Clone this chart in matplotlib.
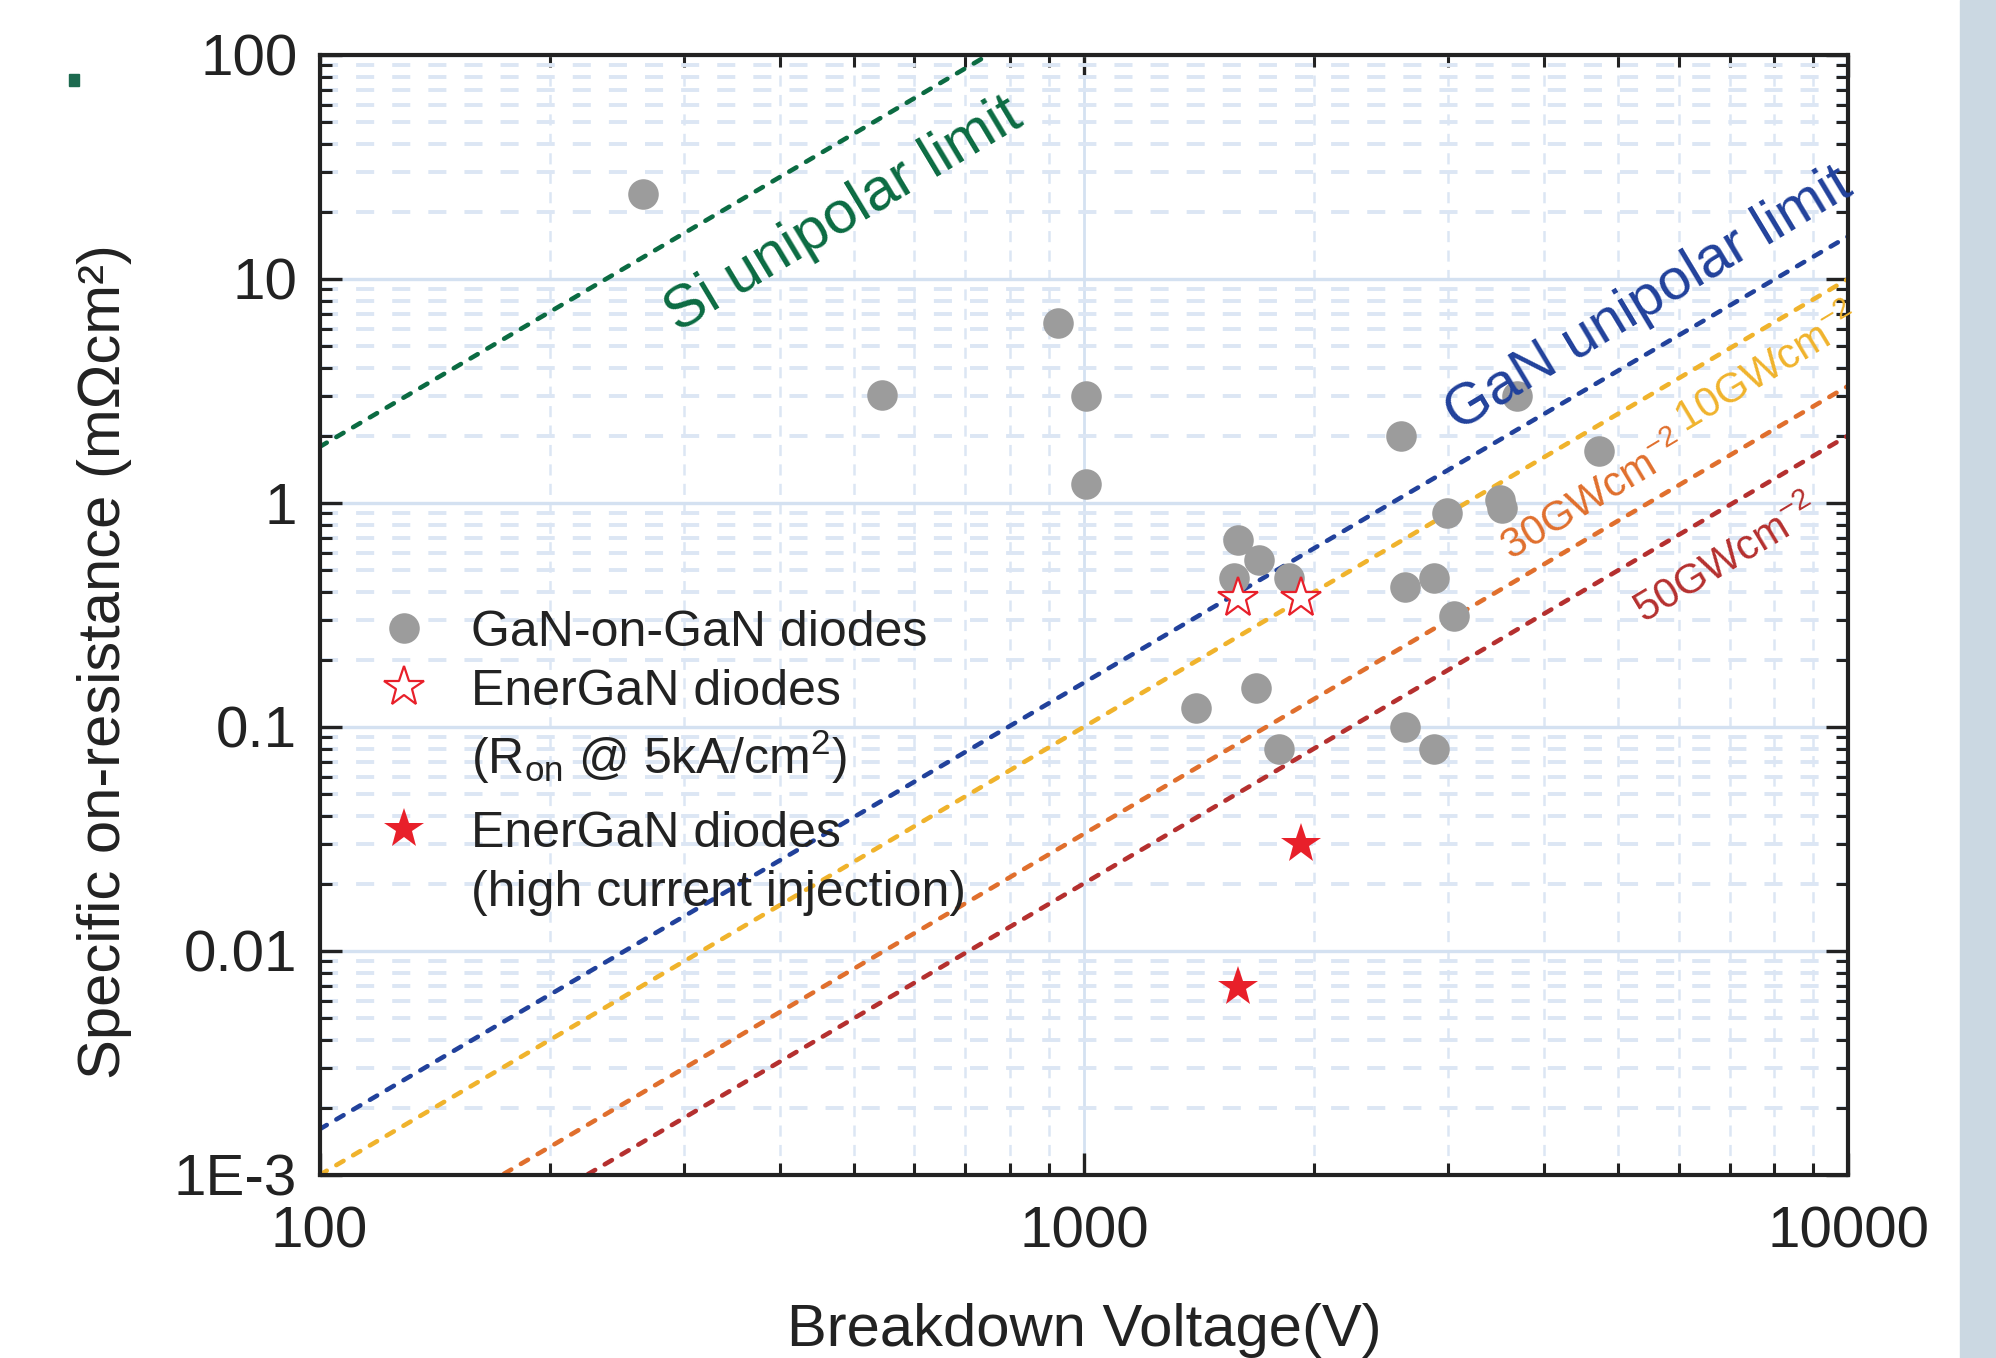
import matplotlib
matplotlib.use("Agg")
import matplotlib.pyplot as plt
from matplotlib.lines import Line2D
from matplotlib.patches import Rectangle
from matplotlib.ticker import FixedLocator, FixedFormatter, LogLocator, NullFormatter

plt.rcParams['font.family'] = ['Liberation Sans', 'DejaVu Sans']
plt.rcParams['mathtext.fontset'] = 'custom'
plt.rcParams['mathtext.rm'] = 'Liberation Sans'
plt.rcParams['mathtext.it'] = 'Liberation Sans:italic'
plt.rcParams['mathtext.bf'] = 'Liberation Sans:bold'
plt.rcParams['lines.scale_dashes'] = False

# ---------------- data ----------------
gan_v = [265, 545, 925, 1006, 1006, 1593, 1570, 1695, 1858, 1404, 1681, 1802,
         2603, 2632, 2875, 2632, 2875, 2987, 3046, 3500, 3520, 3690, 4720]
gan_ron = [24.0, 3.04, 6.33, 3.0, 1.22, 0.684, 0.462, 0.555, 0.462, 0.122, 0.150, 0.080,
           2.0, 0.422, 0.462, 0.100, 0.080, 0.90, 0.312, 1.03, 0.95, 3.0, 1.71]

energan_open_v = [1593, 1923]
energan_open_ron = [0.375, 0.375]

energan_hi_v = [1923, 1593]
energan_hi_ron = [0.030, 0.0069]

# limit lines (endpoints, straight on log-log)
si_v, si_ron = [100, 1000], [1.78, 178.0]
ganlim_v, ganlim_ron = [100, 10000], [1.6e-3, 15.5]
gw10_v, gw10_ron = [100, 10000], [1.0e-3, 10.0]
gw30_v, gw30_ron = [100, 10000], [3.33e-4, 3.33]
gw50_v, gw50_ron = [100, 10000], [2.0e-4, 2.0]

yticks = [1e-3, 1e-2, 1e-1, 1, 10, 100]
ytick_labels = ['1E-3', '0.01', '0.1', '1', '10', '100']
xticks = [100, 1000, 10000]
xtick_labels = ['100', '1000', '10000']

# ---------------- figure ----------------
fig = plt.figure(figsize=(19.96, 13.58), dpi=100)
ax = fig.add_axes([0.1601, 0.1348, 0.7658, 0.8247])
ax.set_xscale('log')
ax.set_yscale('log')
ax.set_xlim(100, 10000)
ax.set_ylim(1e-3, 100)

# grid
ax.xaxis.grid(True, which='major', color='#d4e1f1', linewidth=2.0, linestyle='-', zorder=0)
ax.yaxis.grid(True, which='major', color='#d4e1f1', linewidth=2.4, linestyle='-', zorder=0)
ax.yaxis.grid(True, which='minor', color='#dce6f4', linewidth=2.8, linestyle=(0, (13, 13)), zorder=0)
ax.xaxis.grid(True, which='minor', color='#dce6f4', linewidth=1.8, linestyle=(0, (8, 6)), zorder=0)
ax.set_axisbelow(True)

# colours
c_si = '#0b6b42'
c_gan = '#21419b'
c_10 = '#f0b32c'
c_30 = '#e06f2d'
c_50 = '#b5302f'

dash = (0, (6.0, 8.0))
lw = 3.3
line_kw = dict(lw=lw, linestyle=dash, dash_capstyle='round', zorder=2)
ax.plot(si_v, si_ron, color=c_si, **line_kw)
ax.plot(ganlim_v, ganlim_ron, color=c_gan, **line_kw)
ax.plot(gw10_v, gw10_ron, color=c_10, **line_kw)
ax.plot(gw30_v, gw30_ron, color=c_30, **line_kw)
ax.plot(gw50_v, gw50_ron, color=c_50, **line_kw)

# markers
gray = '#9c9c9c'
star_red = '#e8202a'
ms_c = 22
ms_s = 30
ax.plot(gan_v, gan_ron, linestyle='none', marker='o', markersize=ms_c,
        color=gray, markeredgewidth=0, zorder=3)
ax.plot(energan_open_v, energan_open_ron, linestyle='none', marker='*', markersize=ms_s,
        markerfacecolor='white', markeredgecolor=star_red, markeredgewidth=1.6, zorder=4)
ax.plot(energan_hi_v, energan_hi_ron, linestyle='none', marker='*', markersize=ms_s,
        color=star_red, markeredgewidth=0, zorder=4)

# line labels
rot = 31
ax.text(485, 19.2, 'Si unipolar limit', color=c_si, fontsize=43, rotation=rot,
        ha='center', va='center', rotation_mode='anchor', zorder=5)
ax.text(5480, 8.1, 'GaN unipolar limit', color=c_gan, fontsize=42, rotation=rot,
        ha='center', va='center', rotation_mode='anchor', zorder=5)
ax.text(7850, 3.9, r'10GWcm$^{-2}$', color=c_10, fontsize=30, rotation=rot,
        ha='center', va='center', rotation_mode='anchor', zorder=5)
ax.text(4650, 1.05, r'30GWcm$^{-2}$', color=c_30, fontsize=30, rotation=rot,
        ha='center', va='center', rotation_mode='anchor', zorder=5)
ax.text(6950, 0.55, r'50GWcm$^{-2}$', color=c_50, fontsize=30, rotation=rot,
        ha='center', va='center', rotation_mode='anchor', zorder=5)

# ticks
ax.yaxis.set_major_locator(FixedLocator(yticks))
ax.yaxis.set_major_formatter(FixedFormatter(ytick_labels))
ax.xaxis.set_major_locator(FixedLocator(xticks))
ax.xaxis.set_major_formatter(FixedFormatter(xtick_labels))
ax.xaxis.set_minor_locator(LogLocator(base=10, subs=range(2, 10), numticks=20))
ax.yaxis.set_minor_locator(LogLocator(base=10, subs=range(2, 10), numticks=20))
ax.xaxis.set_minor_formatter(NullFormatter())
ax.yaxis.set_minor_formatter(NullFormatter())
ax.tick_params(which='both', direction='in', top=True, right=True, colors='#222222')
ax.tick_params(which='major', length=16, width=2.4, labelsize=42, labelcolor='#222222')
ax.tick_params(axis='x', which='major', pad=22)
ax.tick_params(axis='y', which='major', pad=16)
ax.tick_params(which='minor', length=8.5, width=2.2)
for s in ax.spines.values():
    s.set_linewidth(3.0)
    s.set_color('#222222')

ax.set_xlabel('Breakdown Voltage(V)', fontsize=43, color='#222222')
ax.set_ylabel('Specific on-resistance (mΩcm²)', fontsize=43, color='#222222')
ax.xaxis.set_label_coords(0.5, -0.114)
ax.yaxis.set_label_coords(-0.123, 0.458)

# legend (two blocks so the line spacing follows the reference)
h_gan = Line2D([], [], linestyle='none', marker='o', markersize=ms_c, color=gray, markeredgewidth=0)
h_open = Line2D([], [], linestyle='none', marker='*', markersize=ms_s, markerfacecolor='white',
                markeredgecolor=star_red, markeredgewidth=1.6)
h_fill = Line2D([], [], linestyle='none', marker='*', markersize=ms_s, color=star_red, markeredgewidth=0)
h_blank = Line2D([], [], linestyle='none')
leg1_labels = ['GaN-on-GaN diodes', 'EnerGaN diodes', r'(R$_{\mathrm{on}}$ @ 5kA/cm$^2$)']
leg2_labels = ['EnerGaN diodes', '(high current injection)']
common = dict(loc='upper left', frameon=False, fontsize=36, handlelength=1.0,
              handletextpad=0.85, labelspacing=0.26, borderpad=0, borderaxespad=0)
leg1 = ax.legend([h_gan, h_open, h_blank], leg1_labels, bbox_to_anchor=(0.0386, 0.5047), **common)
ax.add_artist(leg1)
leg2 = ax.legend([h_fill, h_blank], leg2_labels, bbox_to_anchor=(0.0386, 0.325), **common)
for lg in (leg1, leg2):
    for t in lg.get_texts():
        t.set_color('#222222')
    lg.set_zorder(6)

# page artefacts
fig.patches.append(Rectangle((1960 / 1996, 0), 36 / 1996, 1, transform=fig.transFigure,
                             color='#cbd8e2', zorder=0))
fig.patches.append(Rectangle((69 / 1996, 1 - 86 / 1358), 10 / 1996, 12 / 1358,
                             transform=fig.transFigure, color='#1d6a4f', zorder=0))

fig.savefig('out.png', dpi=100)
